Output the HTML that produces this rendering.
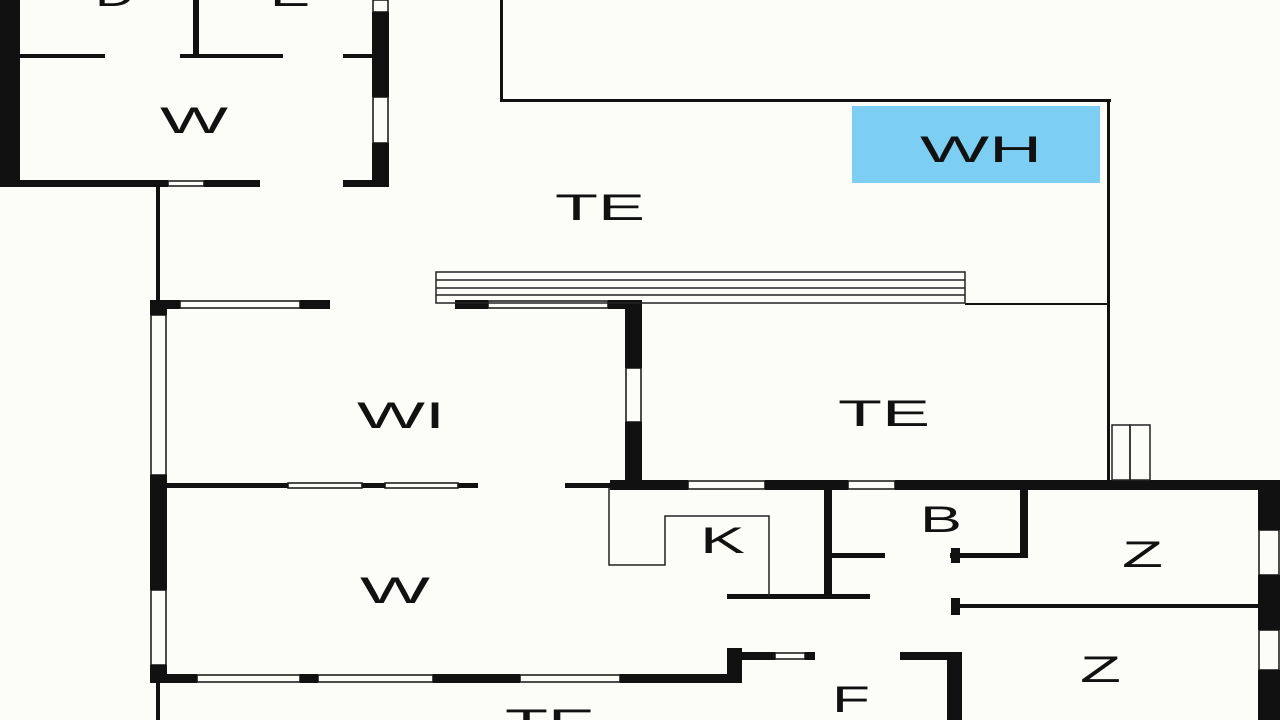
<!DOCTYPE html>
<html><head><style>html,body{margin:0;padding:0;background:#fcfcf9;}svg{display:block}</style></head>
<body>
<svg width="1280" height="720" viewBox="0 0 1280 720" xmlns="http://www.w3.org/2000/svg">
<rect width="1280" height="720" fill="#fcfcf9"/>
<!-- windows (outlined) -->
<g fill="#fcfcf9" stroke="#111" stroke-width="1.5">
<rect x="373" y="0" width="15" height="12"/>
<rect x="373" y="97" width="15" height="46"/>
<rect x="168" y="181" width="36" height="5"/>
<rect x="180" y="301" width="120" height="7"/>
<rect x="488" y="301" width="120" height="7"/>
<rect x="151" y="315" width="15" height="160"/>
<rect x="151" y="590" width="15" height="75"/>
<rect x="626" y="368" width="15" height="54"/>
<rect x="288" y="483" width="74" height="5"/>
<rect x="385" y="483" width="73" height="5"/>
<rect x="688" y="481" width="77" height="8"/>
<rect x="848" y="481" width="47" height="8"/>
<rect x="1259" y="530" width="20" height="45"/>
<rect x="1259" y="630" width="20" height="40"/>
<rect x="197" y="675" width="103" height="7"/>
<rect x="318" y="675" width="115" height="7"/>
<rect x="520" y="675" width="100" height="7"/>
<rect x="775" y="653" width="30" height="6"/>
</g>
<g fill="#111">
<rect x="0" y="0" width="20" height="187"/>
<rect x="372" y="12" width="17" height="85"/>
<rect x="372" y="143" width="17" height="44"/>
<rect x="0" y="180" width="168" height="7"/>
<rect x="204" y="180" width="56" height="7"/>
<rect x="343" y="180" width="46" height="7"/>
<rect x="20" y="54" width="85" height="4"/>
<rect x="180" y="54" width="103" height="4"/>
<rect x="343" y="54" width="29" height="4"/>
<rect x="193" y="0" width="6" height="57"/>
<rect x="156" y="187" width="4" height="115"/>
<rect x="500" y="0" width="3" height="102"/>
<rect x="500" y="99" width="611" height="3"/>
<rect x="1107" y="99" width="3" height="382"/>
<rect x="150" y="300" width="30" height="9"/>
<rect x="300" y="300" width="30" height="9"/>
<rect x="455" y="300" width="33" height="9"/>
<rect x="608" y="300" width="34" height="9"/>
<rect x="965" y="303" width="143" height="2"/>
<rect x="150" y="300" width="17" height="15"/>
<rect x="150" y="475" width="17" height="115"/>
<rect x="150" y="665" width="17" height="17"/>
<rect x="625" y="308" width="17" height="60"/>
<rect x="625" y="422" width="17" height="66"/>
<rect x="167" y="483" width="121" height="5"/>
<rect x="362" y="483" width="23" height="5"/>
<rect x="458" y="483" width="20" height="5"/>
<rect x="565" y="483" width="45" height="5"/>
<rect x="610" y="480" width="78" height="10"/>
<rect x="765" y="480" width="83" height="10"/>
<rect x="895" y="480" width="385" height="10"/>
<rect x="1258" y="485" width="22" height="45"/>
<rect x="1258" y="575" width="22" height="55"/>
<rect x="1258" y="670" width="22" height="50"/>
<rect x="727" y="594" width="143" height="5"/>
<rect x="824" y="488" width="8" height="110"/>
<rect x="832" y="553" width="53" height="5"/>
<rect x="1020" y="488" width="8" height="70"/>
<rect x="950" y="553" width="78" height="5"/>
<rect x="951" y="548" width="9" height="15"/>
<rect x="958" y="604" width="300" height="4"/>
<rect x="951" y="598" width="9" height="17"/>
<rect x="150" y="674" width="47" height="9"/>
<rect x="300" y="674" width="18" height="9"/>
<rect x="433" y="674" width="87" height="9"/>
<rect x="620" y="674" width="122" height="9"/>
<rect x="727" y="648" width="15" height="35"/>
<rect x="742" y="652" width="33" height="8"/>
<rect x="805" y="652" width="10" height="8"/>
<rect x="900" y="652" width="62" height="8"/>
<rect x="947" y="652" width="15" height="68"/>
<rect x="156" y="683" width="4" height="37"/>
</g>
<g fill="none" stroke="#222" stroke-width="1.5">
<polyline points="609,488 609,565 665,565 665,516 769,516 769,596"/>
<rect x="1112" y="425" width="18" height="55"/>
<rect x="1130" y="425" width="20" height="55"/>
<rect x="436" y="272" width="529" height="31"/>
<line x1="436" y1="280" x2="965" y2="280"/>
<line x1="436" y1="288" x2="965" y2="288"/>
<line x1="436" y1="295" x2="965" y2="295"/>
</g>
<rect x="852" y="106" width="248" height="77" fill="#7ccff2"/>
<g font-family="Liberation Sans, sans-serif" font-size="37" fill="#111" lengthAdjust="spacingAndGlyphs">
<text x="95" y="6" textLength="40" lengthAdjust="spacingAndGlyphs">D</text>
<text x="270" y="6" textLength="40" lengthAdjust="spacingAndGlyphs">E</text>
<text x="160" y="133" textLength="68" lengthAdjust="spacingAndGlyphs">W</text>
<text x="920" y="162" textLength="122" lengthAdjust="spacingAndGlyphs">WH</text>
<text x="555" y="220" textLength="90" lengthAdjust="spacingAndGlyphs">TE</text>
<text x="357" y="428" textLength="88" lengthAdjust="spacingAndGlyphs">WI</text>
<text x="838" y="426" textLength="92" lengthAdjust="spacingAndGlyphs">TE</text>
<text x="360" y="603" textLength="70" lengthAdjust="spacingAndGlyphs">W</text>
<text x="700" y="553" textLength="45" lengthAdjust="spacingAndGlyphs">K</text>
<text x="920" y="532" textLength="42" lengthAdjust="spacingAndGlyphs">B</text>
<text x="1122" y="567" textLength="41" lengthAdjust="spacingAndGlyphs">Z</text>
<text x="1080" y="682" textLength="41" lengthAdjust="spacingAndGlyphs">Z</text>
<text x="832" y="712" textLength="38" lengthAdjust="spacingAndGlyphs">F</text>
<text x="505" y="735" textLength="90" lengthAdjust="spacingAndGlyphs">TE</text>
</g>
</svg>
</body></html>
